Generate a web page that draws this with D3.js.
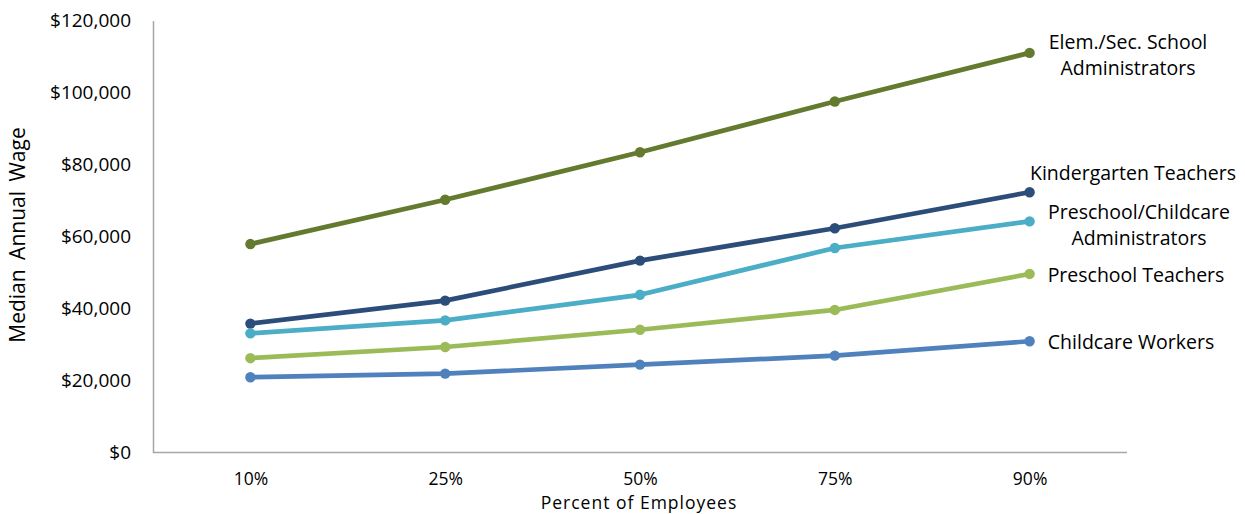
<!DOCTYPE html>
<html><head><meta charset="utf-8">
<script src="https://cdn.jsdelivr.net/npm/d3@7"></script>
<style>body{margin:0;background:#fff}svg{display:block}text{font-family:"Open Sans",sans-serif;fill:#000}</style>
</head><body><svg id="c" width="1245" height="514"></svg>
<script>
const categories = ["10%", "25%", "50%", "75%", "90%"];
const seriesNames = ["Elem./Sec. School Administrators", "Kindergarten Teachers", "Preschool/Childcare Administrators", "Preschool Teachers", "Childcare Workers"];
const elemSecAdmin = [57900, 70200, 83400, 97500, 111000];
const kindergartenTeachers = [35800, 42200, 53300, 62300, 72300];
const preschoolChildcareAdmin = [33100, 36700, 43800, 56800, 64200];
const preschoolTeachers = [26200, 29300, 34100, 39600, 49600];
const childcareWorkers = [20900, 21900, 24400, 26900, 30900];
const yTicks = [0, 20000, 40000, 60000, 80000, 100000, 120000];
const labelLines = [["Elem./Sec. School", "Administrators"], ["Kindergarten Teachers"], ["Preschool/Childcare", "Administrators"], ["Preschool Teachers"], ["Childcare Workers"]];
const colors = ["#637A2F", "#2C4D79", "#4BADC6", "#9BBB59", "#4F81BD"];

const series = [elemSecAdmin, kindergartenTeachers, preschoolChildcareAdmin, preschoolTeachers, childcareWorkers];
const svg = d3.select("#c");
const mLeft = 153, mRight = 1127, mTop = 20.5, mBottom = 452.5;
const x = d3.scalePoint().domain(categories).range([mLeft, mRight]).padding(0.5);
const y = d3.scaleLinear().domain([0, 120000]).range([mBottom, mTop]);

// axes
const yAxis = svg.append("g").attr("transform", `translate(${mLeft},0)`)
  .call(d3.axisLeft(y).tickValues(yTicks).tickSize(0).tickPadding(22).tickFormat(d => "$" + d3.format(",")(d)));
yAxis.select(".domain").attr("stroke", "#A6A6A6").attr("stroke-width", 1.5);
yAxis.selectAll("text").style("font-size", "19px").style("font-family", "Open Sans");

const xAxis = svg.append("g").attr("transform", `translate(0,${mBottom})`)
  .call(d3.axisBottom(x).tickSize(0).tickPadding(20.5));
xAxis.select(".domain").attr("stroke", "#A6A6A6").attr("stroke-width", 1.5).attr("d", `M${mLeft},0H${mRight}`);
xAxis.selectAll("text").style("font-size", "17.5px").style("font-family", "Open Sans");

svg.append("text").attr("x", 639).attr("y", 508.8).attr("text-anchor", "middle")
  .style("font-size", "17.5px").style("letter-spacing", "1px").text("Percent of Employees");
svg.append("text").attr("transform", "translate(25,235) rotate(-90)").attr("text-anchor", "middle")
  .style("font-size", "21px").style("word-spacing", "4px").text("Median Annual Wage");

const line = d3.line().x((d, i) => x(categories[i])).y(d => y(d));
series.forEach((s, k) => {
  svg.append("path").datum(s).attr("d", line).attr("fill", "none")
    .attr("stroke", colors[k]).attr("stroke-width", 4.7).attr("stroke-linejoin", "round");
  svg.selectAll(null).data(s).enter().append("circle")
    .attr("cx", (d, i) => x(categories[i])).attr("cy", d => y(d)).attr("r", 5.2).attr("fill", colors[k]);
});

// labels
const labelPos = [[1128, 49], [1133, 180], [1139, 219], [1136, 282], [1131, 349]];
labelLines.forEach((lines, k) => {
  const t = svg.append("text").attr("text-anchor", "middle").style("font-size", "19.5px");
  lines.forEach((l, j) => {
    t.append("tspan").attr("x", labelPos[k][0]).attr("y", labelPos[k][1] + j * 26).text(l);
  });
});
</script></body></html>
